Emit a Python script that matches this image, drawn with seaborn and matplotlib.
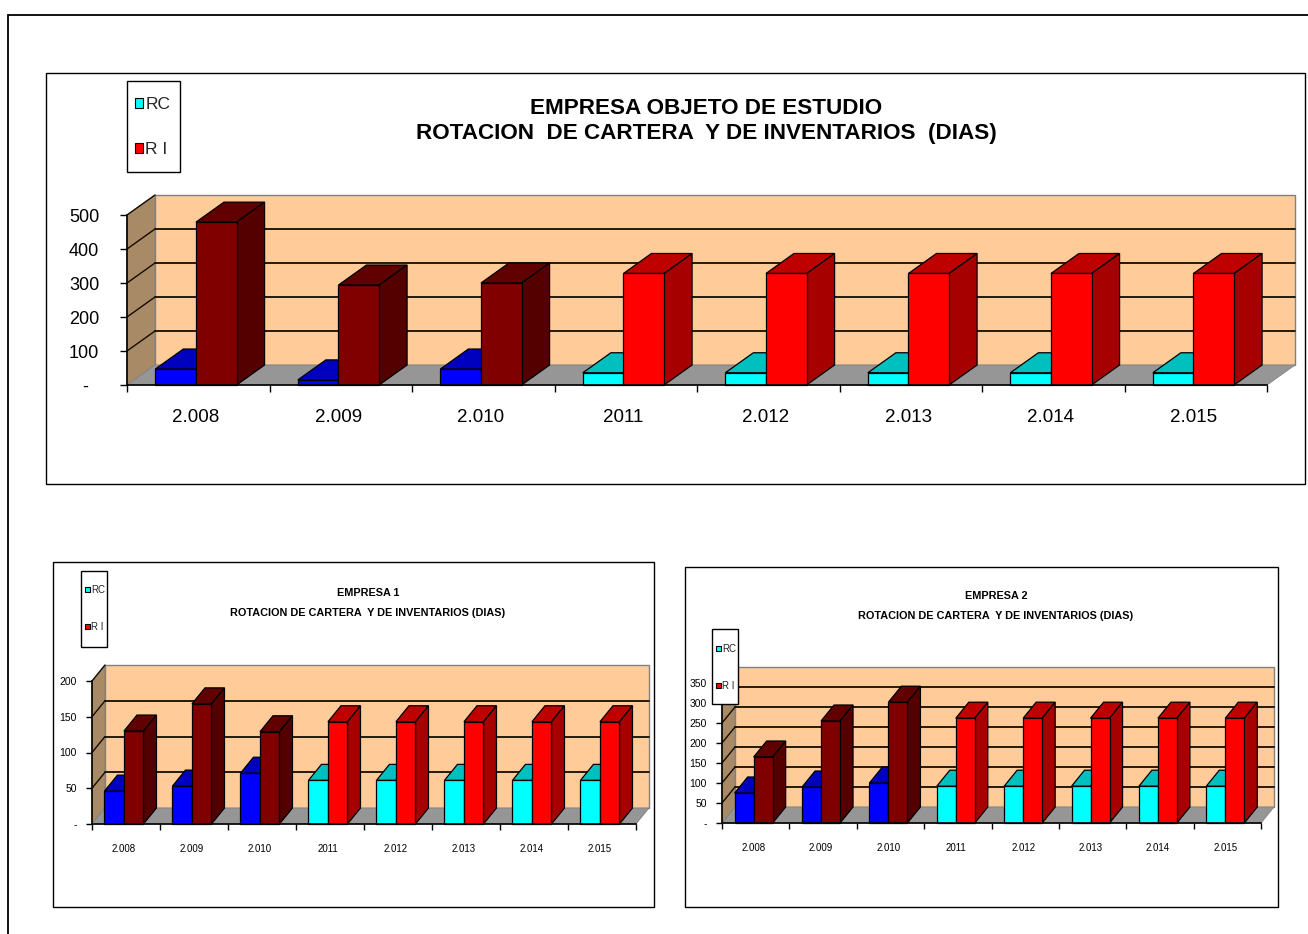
import numpy as np
import pandas as pd
import matplotlib
matplotlib.use("Agg")
import matplotlib.pyplot as plt
from matplotlib.lines import Line2D
from matplotlib.patches import Patch, Polygon, Rectangle
import seaborn as sns

# -----------------------------------
# Data
# -----------------------------------
YEARS = ["2.008", "2.009", "2.010", "2011", "2.012", "2.013", "2.014", "2.015"]

RC_MAIN = [47, 15, 47, 36, 36, 36, 36, 36]
RI_MAIN = [479, 294, 300, 328, 328, 328, 328, 328]

RC_E1 = [46, 53, 71, 61, 61, 61, 61, 61]
RI_E1 = [130, 168, 129, 143, 143, 143, 143, 143]

RC_E2 = [75, 90, 100, 92, 92, 92, 92, 92]
RI_E2 = [165, 255, 302, 262, 262, 262, 262, 262]

TITLE_MAIN = "EMPRESA OBJETO DE ESTUDIO\nROTACION  DE CARTERA  Y DE INVENTARIOS  (DIAS)"
TITLE_E1 = "EMPRESA 1\nROTACION DE CARTERA  Y DE INVENTARIOS (DIAS)"
TITLE_E2 = "EMPRESA 2\nROTACION DE CARTERA  Y DE INVENTARIOS (DIAS)"

# first three years are drawn in the darker colours
RC_COLORS = ["#0000FF"] * 3 + ["#00FFFF"] * 5
RI_COLORS = ["#800000"] * 3 + ["#FF0000"] * 5
RC_TOP = ["#0000BF"] * 3 + ["#00BFBF"] * 5
RI_TOP = ["#600000"] * 3 + ["#BF0000"] * 5
RC_SIDE = ["#0000A6"] * 3 + ["#00A6A6"] * 5
RI_SIDE = ["#550000"] * 3 + ["#A60000"] * 5

WIDTH, HEIGHT = 1308, 934
WALL = "#FFCC99"
SIDE_WALL = "#A98A66"
FLOOR = "#969696"

sns.set_theme(style="white")
plt.rcParams["font.family"] = ["Liberation Sans"]


def fx(x):
    return x / WIDTH


def fy(y):
    return 1 - y / HEIGHT


def frame(fig, x0, y0, x1, y1, lw=1.0):
    fig.add_artist(Rectangle((fx(x0), fy(y1)), fx(x1 - x0), (y1 - y0) / HEIGHT,
                             fill=False, edgecolor="black", linewidth=lw,
                             transform=fig.transFigure))


def draw_panel(fig, rc, ri, ymax, step, box, depth, width, left, title, title_pos,
               legend_box, legend_pos, legend_space, sizes):
    x0, y0, x1, y1 = box
    ax = fig.add_axes([fx(x0), fy(y1), (x1 - x0) / WIDTH, (y1 - y0) / HEIGHT])
    ax.patch.set_alpha(0)

    df = pd.DataFrame({
        "anio": YEARS * 2,
        "dias": rc + ri,
        "serie": ["RC"] * len(YEARS) + ["R I"] * len(YEARS),
    })
    sns.barplot(data=df, x="anio", y="dias", hue="serie", palette=["#00FFFF", "#FF0000"],
                width=width, saturation=1, legend=False, ax=ax, zorder=5,
                edgecolor="black", linewidth=0.9)

    xl, xr = left, left + len(YEARS)
    ax.set_xlim(xl, xr)
    ax.set_ylim(0, ymax)

    # depth of the 3D box, turned into data units
    ddx = depth[0] / ((x1 - x0) / len(YEARS))
    ddy = depth[1] / ((y1 - y0) / ymax)

    ax.add_patch(Polygon([(xl + ddx, ddy), (xr + ddx, ddy), (xr + ddx, ymax + ddy), (xl + ddx, ymax + ddy)],
                         facecolor=WALL, edgecolor="#808080", linewidth=1.0, zorder=1, clip_on=False))
    ax.add_patch(Polygon([(xl, 0), (xl + ddx, ddy), (xl + ddx, ymax + ddy), (xl, ymax)],
                         facecolor=SIDE_WALL, edgecolor="#808080", linewidth=0.6, zorder=1.1, clip_on=False))
    ax.add_patch(Polygon([(xl, 0), (xr, 0), (xr + ddx, ddy), (xl + ddx, ddy)],
                         facecolor=FLOOR, edgecolor="#808080", linewidth=0.6, zorder=1.1, clip_on=False))

    # gridlines run over the back wall and down the left wall
    ticks = np.arange(0, ymax + step, step)
    for t in ticks[1:]:
        if t < ymax:
            ax.add_line(Line2D([xl + ddx, xr + ddx], [t + ddy, t + ddy], color="#140c00",
                               linewidth=1.3, zorder=1.5, clip_on=False))
        ax.add_line(Line2D([xl, xl + ddx], [t, t + ddy], color="#140c00",
                           linewidth=1.0, zorder=1.5, clip_on=False))

    # top and side faces, taken from the bars seaborn has drawn
    bars = [b for b in ax.patches if isinstance(b, Rectangle)]
    n = len(YEARS)
    fronts = [RC_COLORS + RI_COLORS, RC_TOP + RI_TOP, RC_SIDE + RI_SIDE]
    order = sorted(range(2 * n), key=lambda i: bars[i].get_x())
    for k, i in enumerate(order):
        bar = bars[i]
        bx0, bw, v = bar.get_x(), bar.get_width(), bar.get_height()
        bx1 = bx0 + bw
        z = 5 + k * 0.01
        bar.set_facecolor(fronts[0][i])
        bar.set_zorder(z + 0.002)
        ax.add_patch(Polygon([(bx0, v), (bx1, v), (bx1 + ddx, v + ddy), (bx0 + ddx, v + ddy)],
                             facecolor=fronts[1][i], edgecolor="black", linewidth=0.9,
                             zorder=z, clip_on=False))
        ax.add_patch(Polygon([(bx1, 0), (bx1, v), (bx1 + ddx, v + ddy), (bx1 + ddx, ddy)],
                             facecolor=fronts[2][i], edgecolor="black", linewidth=0.9,
                             zorder=z, clip_on=False))
        bar.set_clip_on(False)

    # axes
    sns.despine(ax=ax, top=True, right=True)
    for name in ("left", "bottom"):
        ax.spines[name].set_color("black")
        ax.spines[name].set_linewidth(1.2)
        ax.spines[name].set_zorder(6)
    ax.set_xlabel("")
    ax.set_ylabel("")
    ax.set_yticks(ticks)
    ax.set_yticklabels(["-" + " " * sizes["dash"]] + [str(t) for t in ticks[1:]],
                       fontsize=sizes["tick"])
    ax.tick_params(axis="y", left=True, length=sizes["ylen"], width=1.0, color="black",
                   pad=sizes["ypad"], labelcolor="black")
    ax.set_xticks(range(n))
    ax.set_xticklabels(YEARS, fontsize=sizes["xtick"])
    ax.set_xticks(np.arange(n + 1) + xl, minor=True)
    ax.tick_params(axis="x", which="major", bottom=False, length=0, pad=sizes["xpad"], labelcolor="black")
    ax.tick_params(axis="x", which="minor", bottom=True, length=sizes["xlen"], width=1.0, color="black")

    fig.text(fx(title_pos[0]), fy(title_pos[1]), title, ha="center", va="center",
             fontsize=sizes["title"], fontweight="bold",
             color="black", linespacing=sizes["spacing"])

    # legend frame is wider at top and bottom than at the sides, so it is drawn apart
    lx0, ly0, lx1, ly1 = legend_box
    ax.add_patch(Rectangle((fx(lx0), fy(ly1)), (lx1 - lx0) / WIDTH, (ly1 - ly0) / HEIGHT,
                           facecolor="white", edgecolor="black", linewidth=1.0,
                           transform=fig.transFigure, zorder=19, clip_on=False))
    handles = [Patch(facecolor="#00FFFF", edgecolor="black", linewidth=0.8, label="RC"),
               Patch(facecolor="#FF0000", edgecolor="black", linewidth=0.8, label="R I")]
    leg = ax.legend(handles=handles, loc="upper left",
                    bbox_to_anchor=(fx(legend_pos[0]), fy(legend_pos[1])),
                    bbox_transform=fig.transFigure, borderaxespad=0, frameon=False,
                    handlelength=0.48, handleheight=0.48, handletextpad=0.12,
                    labelspacing=legend_space, borderpad=0,
                    prop={"size": sizes["legend"]})
    leg.set_zorder(20)
    return ax


fig = plt.figure(figsize=(WIDTH / 100, HEIGHT / 100), dpi=100)
fig.patch.set_facecolor("white")

# outer frame runs off the right and bottom of the picture
frame(fig, 8, 15, WIDTH + 10, HEIGHT + 10, lw=1.3)

# chart frames
frame(fig, 46, 73, 1305, 484)
frame(fig, 53, 562, 654, 907)
frame(fig, 685, 567, 1278, 907)

BIG = {"tick": 13, "xtick": 13.5, "title": 16.2, "spacing": 1.25, "legend": 12.5,
       "ylen": 5, "xlen": 5, "ypad": 15, "xpad": 17, "dash": 2}
SMALL = {"tick": 7.5, "xtick": 7, "title": 7.8, "spacing": 2.2, "legend": 7,
         "ylen": 4, "xlen": 4, "ypad": 7, "xpad": 14.7, "dash": 0}

draw_panel(fig, RC_MAIN, RI_MAIN, 500, 100, (127, 215, 1267, 385), (28, 20), 0.57, -0.484,
           TITLE_MAIN, (706, 120.5), (127, 81, 180, 172), (135, 97), 1.72, BIG)
draw_panel(fig, RC_E1, RI_E1, 200, 50, (92, 681, 636, 824), (13, 16), 0.574, -0.47,
           TITLE_E1, (368, 603), (81, 571, 107, 647), (85, 585), 2.8, SMALL)
draw_panel(fig, RC_E2, RI_E2, 350, 50, (722, 683, 1261, 823), (13, 16), 0.564, -0.47,
           TITLE_E2, (996, 606), (712, 629, 738, 704), (716, 644), 2.8, SMALL)

fig.savefig("out.png", dpi=100, facecolor="white")
plt.close(fig)
